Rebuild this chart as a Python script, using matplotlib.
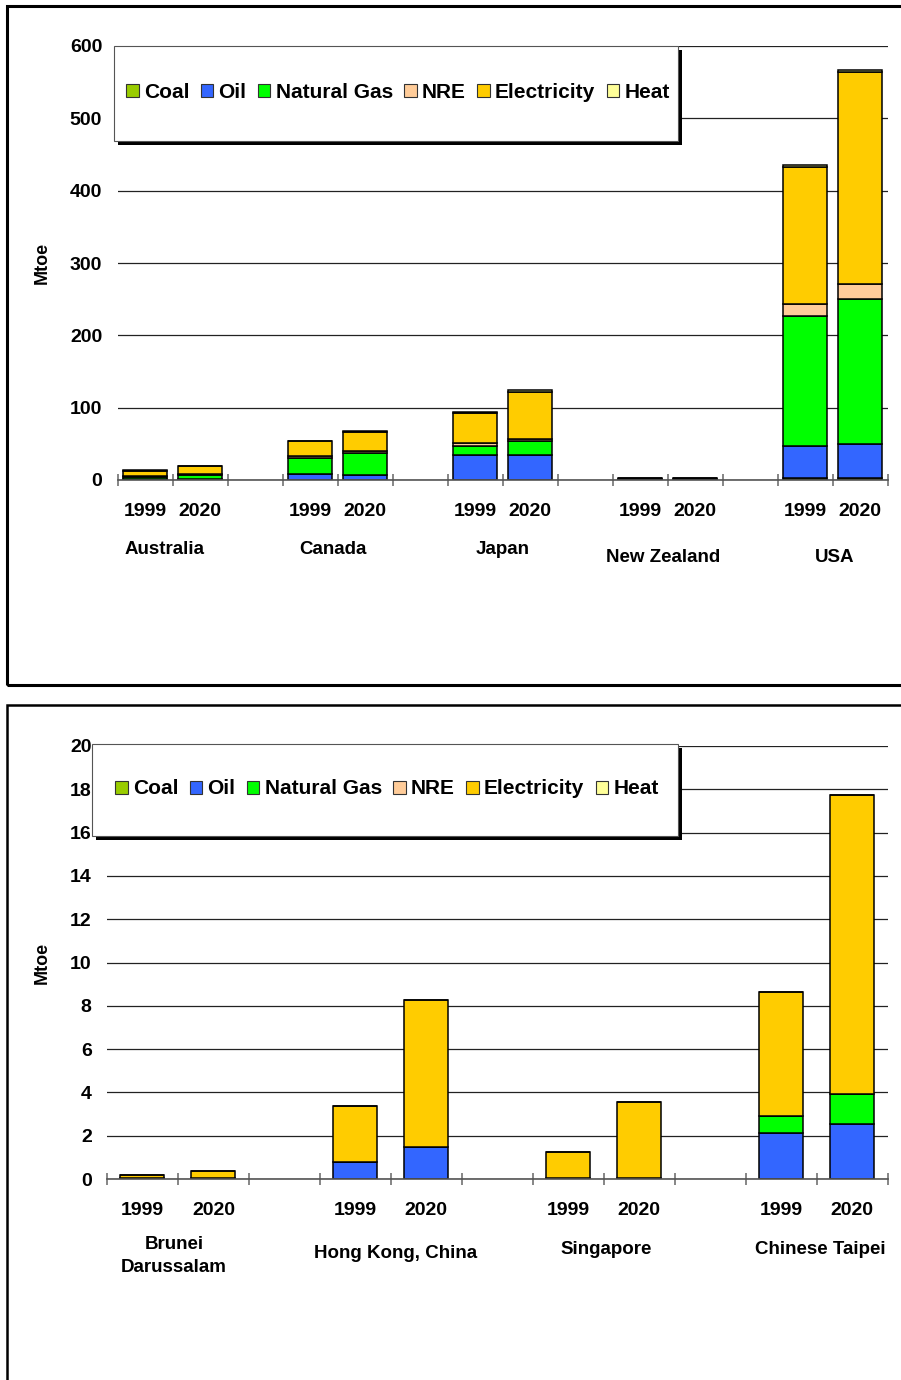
import matplotlib
matplotlib.use("Agg")
import matplotlib.pyplot as plt
from matplotlib.patches import Patch, Rectangle
from matplotlib.ticker import FixedLocator

plt.rcParams['font.family'] = ['Liberation Sans', 'DejaVu Sans']
plt.rcParams['font.weight'] = 'bold'

fuels = ["Coal", "Oil", "Natural Gas", "NRE", "Electricity", "Heat"]
fuel_colors = ["#99CC00", "#3366FF", "#00FF00", "#FFCC99", "#FFCC00", "#FFFF99"]
years = ["1999", "2020"]

# top panel: Australia, Canada, Japan, New Zealand, USA (1999, 2020 each)
top_countries = ["Australia", "Canada", "Japan", "New Zealand", "USA"]
top_coal = [0.3, 0.3, 0.5, 0.5, 0.3, 0.3, 0.1, 0.1, 2.5, 2.5]
top_oil = [0.5, 0.5, 7.8, 6.0, 33.6, 33.6, 0.2, 0.2, 44.5, 47.5]
top_gas = [3.5, 5.5, 22.0, 30.4, 12.9, 20.3, 0.4, 0.4, 180.0, 200.0]
top_nre = [1.2, 1.5, 2.5, 2.7, 4.6, 2.3, 0.1, 0.1, 16.0, 21.0]
top_elec = [7.5, 11.2, 21.0, 27.2, 41.5, 64.5, 1.8, 2.2, 190.0, 293.0]
top_heat = [0.3, 0.3, 0.5, 0.5, 0.5, 3.0, 0.0, 0.0, 2.5, 3.0]

# bottom panel
bot_countries = ["Brunei\nDarussalam", "Hong Kong, China", "Singapore", "Chinese Taipei"]
bot_coal = [0, 0, 0, 0, 0, 0, 0, 0]
bot_oil = [0.02, 0.02, 0.78, 1.48, 0.05, 0.05, 2.12, 2.55]
bot_gas = [0.02, 0.02, 0, 0, 0, 0, 0.8, 1.38]
bot_nre = [0, 0, 0, 0, 0, 0, 0, 0]
bot_elec = [0.16, 0.32, 2.6, 6.8, 1.2, 3.5, 5.72, 13.8]
bot_heat = [0, 0, 0, 0, 0, 0, 0, 0]

W, H = 901, 1380
fig = plt.figure(figsize=(W / 100, H / 100), dpi=100)


def fx(x):
    return x / W


def fy(y):
    return 1 - y / H


# outer frames of the two chart images
fig.add_artist(Rectangle((fx(7), fy(685)), fx(1000), fy(6) - fy(685), transform=fig.transFigure,
                         fill=False, lw=2.2, ec='black'))
fig.add_artist(Rectangle((fx(7), fy(1500)), fx(1000), fy(705) - fy(1500), transform=fig.transFigure,
                         fill=False, lw=1.8, ec='black'))


def panel(rect, series, countries, gap, ylim, ystep, width, label_drop, label_shift):
    left, top, right, bottom = rect
    ax = fig.add_axes([fx(left), fy(bottom), fx(right) - fx(left), fy(top) - fy(bottom)])
    n = len(countries)
    xs = [g * gap + j for g in range(n) for j in range(2)]
    base = [0.0] * len(xs)
    for vals, col in zip(series, fuel_colors):
        ax.bar(xs, vals, width=width, bottom=base, color=col, edgecolor='black',
               linewidth=1.1, zorder=3)
        base = [b + v for b, v in zip(base, vals)]
    nslots = (n - 1) * gap + 2
    ax.set_xlim(-0.5, nslots - 0.5)
    ax.set_ylim(0, ylim)
    ax.set_yticks(range(0, ylim + 1, ystep))
    ax.grid(axis='y', color='#222222', lw=0.9, zorder=0)
    for s in ['top', 'right', 'left']:
        ax.spines[s].set_visible(False)
    ax.spines['bottom'].set_color('#555555')
    ax.spines['bottom'].set_linewidth(1.2)
    ax.spines['bottom'].set_zorder(4)
    ax.set_xticks(xs)
    ax.set_xticklabels(years * n)
    ax.xaxis.set_minor_locator(FixedLocator([i - 0.5 for i in range(nslots + 1)]))
    ax.tick_params(axis='x', which='major', length=0, pad=16.5, labelsize=14)
    ax.tick_params(axis='x', which='minor', direction='inout', length=9, width=1.1, color='#666666')
    ax.tick_params(axis='y', length=0, pad=11, labelsize=14)
    ax.set_ylabel("Mtoe", fontsize=13, fontweight='bold', labelpad=14)
    for g, (name, drop, sh) in enumerate(zip(countries, label_drop, label_shift)):
        ax.annotate(name, xy=(g * gap + 0.5, 0), xycoords=('data', 'axes fraction'),
                    xytext=(sh * 0.72, -drop * 0.72), textcoords='offset points',
                    ha='center', va='center', fontsize=13.5, linespacing=1.45)
    return ax


ax1 = panel((117.5, 46, 887.5, 480),
            [top_coal, top_oil, top_gas, top_nre, top_elec, top_heat],
            top_countries, 3, 600, 100, 0.8, [70, 70, 70, 77, 77], [-8, -5, 0, -4, 2])
ax2 = panel((107, 746, 887.5, 1179),
            [bot_coal, bot_oil, bot_gas, bot_nre, bot_elec, bot_heat],
            bot_countries, 3, 20, 2, 0.62, [77, 74, 71, 71], [-4, 5, 2, 4])


def legend_box(x0, y0, x1, y1):
    fig.add_artist(Rectangle((fx(x0 + 4), fy(y1 + 4)), fx(x1) - fx(x0), fy(y0) - fy(y1),
                             transform=fig.transFigure, fc='black', ec='black', lw=0, zorder=5))
    fig.add_artist(Rectangle((fx(x0), fy(y1)), fx(x1) - fx(x0), fy(y0) - fy(y1),
                             transform=fig.transFigure, fc='white', ec='#555555', lw=0.8, zorder=6))
    handles = [Patch(facecolor=c, edgecolor='#333333', lw=0.8) for c in fuel_colors]
    leg = fig.legend(handles, fuels, ncol=6, loc='center', frameon=False,
                     bbox_to_anchor=(fx((x0 + x1) / 2 + 2), fy((y0 + y1) / 2 - 1)),
                     fontsize=15, handlelength=0.6, handleheight=0.6,
                     handletextpad=0.25, columnspacing=0.55, borderaxespad=0)
    leg.set_zorder(7)


legend_box(114, 46, 678, 141)
legend_box(92, 744, 678, 836)

fig.savefig("out.png", dpi=100)
